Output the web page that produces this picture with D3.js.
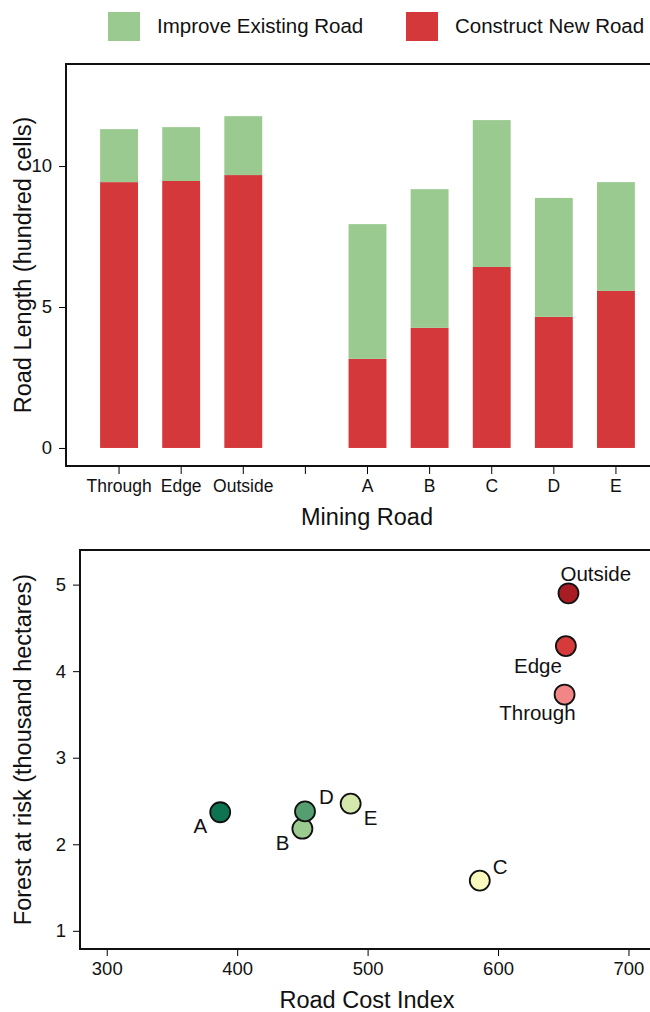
<!DOCTYPE html>
<html>
<head>
<meta charset="utf-8">
<script src="https://cdn.jsdelivr.net/npm/d3@7"></script>
<style>
  body { margin: 0; background: #fff; }
  svg { font-family: "Liberation Sans", Arial, Helvetica, sans-serif; }
  .tick text { fill: #111; }
</style>
</head>
<body>
<svg id="chart" width="650" height="1012"></svg>
<script>
// ---- data: road lengths (hundred cells) ----
const roads = ["Through", "Edge", "Outside", " ", "A", "B", "C", "D", "E"];
const constructNew = [9.43, 9.47, 9.68, 0, 3.16, 4.26, 6.42, 4.65, 5.57];
const improveExisting = [1.88, 1.91, 2.09, 0, 4.78, 4.92, 5.21, 4.22, 3.86];
const lengthTicks = [0, 5, 10];

// ---- data: cost vs forest at risk ----
const pointNames = ["A", "B", "C", "D", "E", "Through", "Edge", "Outside"];
const costIndex = [387, 450, 586, 452, 487, 651, 652, 654];
const forestRisk = [2.37, 2.18, 1.58, 2.38, 2.47, 3.73, 4.29, 4.90];
const costTicks = [300, 400, 500, 600, 700];
const riskTicks = [1, 2, 3, 4, 5];

const pointColors = {
  A: "#0e7350", B: "#9bcb8f", C: "#fafabf", D: "#559e6f", E: "#d5e8ab",
  Through: "#f28687", Edge: "#d63b3c", Outside: "#a81d24"
};
// label placement around each point: [dx, dy, anchor]
const labelPlace = {
  A: [-13, 21, "end"], B: [-13, 21, "end"], C: [13, -7, "start"],
  D: [14, -7, "start"], E: [13, 21, "start"],
  Through: [11, 25, "end"], Edge: [-4, 27, "end"], Outside: [-8, -12, "start"]
};

const red = "#d4383b";
const green = "#9bca90";

const svg = d3.select("#chart");

// ---- legend ----
const legendItems = [["Improve Existing Road", green, 108], ["Construct New Road", red, 406]];
legendItems.forEach(([label, col, x]) => {
  svg.append("rect").attr("x", x).attr("y", 12).attr("width", 32).attr("height", 29).attr("fill", col);
  svg.append("text").attr("x", x + 49).attr("y", 33).attr("font-size", 20.5).attr("fill", "#111").text(label);
});

// ---- top panel: stacked bars ----
const p1 = { left: 66, top: 64, bottom: 466, right: 670 };

const x1 = d3.scaleBand()
  .domain(roads)
  .range([88, 647])
  .paddingInner(0.39)
  .paddingOuter(0.195);

const y1 = d3.scaleLinear()
  .domain([-0.64, 13.62])
  .range([p1.bottom, p1.top]);

const rows = roads.map((r, i) => ({ road: r, construct: constructNew[i], improve: improveExisting[i] }));
const series = d3.stack().keys(["construct", "improve"])(rows);
const fills = { construct: red, improve: green };

svg.append("g")
  .selectAll("g")
  .data(series)
  .join("g")
    .attr("fill", d => fills[d.key])
  .selectAll("rect")
  .data(d => d)
  .join("rect")
    .attr("x", d => x1(d.data.road))
    .attr("y", d => y1(d[1]))
    .attr("width", x1.bandwidth())
    .attr("height", d => y1(d[0]) - y1(d[1]));

const yAxis1 = svg.append("g")
  .attr("transform", `translate(${p1.left},0)`)
  .call(d3.axisLeft(y1).tickValues(lengthTicks).tickSize(7).tickPadding(7).tickSizeOuter(0));
yAxis1.select(".domain").remove();
yAxis1.selectAll("text").attr("font-size", 18.5);

const xAxis1 = svg.append("g")
  .attr("transform", `translate(0,${p1.bottom})`)
  .call(d3.axisBottom(x1).tickSize(8).tickPadding(6).tickSizeOuter(0));
xAxis1.select(".domain").remove();
xAxis1.selectAll("text").attr("font-size", 17.5);

svg.append("path")
  .attr("d", `M${p1.right},${p1.top}H${p1.left}V${p1.bottom}H${p1.right}`)
  .attr("fill", "none").attr("stroke", "#111").attr("stroke-width", 2);

svg.append("text")
  .attr("x", 367).attr("y", 525)
  .attr("text-anchor", "middle").attr("font-size", 23.5).attr("fill", "#111")
  .text("Mining Road");

svg.append("text")
  .attr("transform", `translate(31,${(p1.top + p1.bottom) / 2}) rotate(-90)`)
  .attr("text-anchor", "middle").attr("font-size", 23.5).attr("fill", "#111")
  .text("Road Length (hundred cells)");

// ---- bottom panel: scatter ----
const p2 = { left: 80, top: 550, bottom: 949, right: 670 };

const x2 = d3.scaleLinear()
  .domain([279.5, 716.5])
  .range([p2.left, 650]);

const y2 = d3.scaleLinear()
  .domain([0.79, 5.40])
  .range([p2.bottom, p2.top]);

const yAxis2 = svg.append("g")
  .attr("transform", `translate(${p2.left},0)`)
  .call(d3.axisLeft(y2).tickValues(riskTicks).tickFormat(d3.format("d"))
    .tickSize(7).tickPadding(7).tickSizeOuter(0));
yAxis2.select(".domain").remove();
yAxis2.selectAll("text").attr("font-size", 18.5);

const xAxis2 = svg.append("g")
  .attr("transform", `translate(0,${p2.bottom})`)
  .call(d3.axisBottom(x2).tickValues(costTicks).tickSize(7).tickPadding(6).tickSizeOuter(0));
xAxis2.select(".domain").remove();
xAxis2.selectAll("text").attr("font-size", 18.5);

svg.append("path")
  .attr("d", `M${p2.right},${p2.top}H${p2.left}V${p2.bottom}H${p2.right}`)
  .attr("fill", "none").attr("stroke", "#111").attr("stroke-width", 2);

const pts = pointNames.map((n, i) => ({ name: n, cost: costIndex[i], risk: forestRisk[i] }));

svg.append("g")
  .selectAll("circle")
  .data(pts)
  .join("circle")
    .attr("cx", d => x2(d.cost))
    .attr("cy", d => y2(d.risk))
    .attr("r", 10)
    .attr("fill", d => pointColors[d.name])
    .attr("stroke", "#111")
    .attr("stroke-width", 1.8);

svg.append("g")
  .selectAll("text")
  .data(pts)
  .join("text")
    .attr("x", d => x2(d.cost) + labelPlace[d.name][0])
    .attr("y", d => y2(d.risk) + labelPlace[d.name][1])
    .attr("text-anchor", d => labelPlace[d.name][2])
    .attr("font-size", 20.5)
    .attr("fill", "#111")
    .text(d => d.name);

svg.append("text")
  .attr("x", 367).attr("y", 1008)
  .attr("text-anchor", "middle").attr("font-size", 23.5).attr("fill", "#111")
  .text("Road Cost Index");

svg.append("text")
  .attr("transform", `translate(31,${(p2.top + p2.bottom) / 2}) rotate(-90)`)
  .attr("text-anchor", "middle").attr("font-size", 23.5).attr("fill", "#111")
  .text("Forest at risk (thousand hectares)");
</script>
</body>
</html>
